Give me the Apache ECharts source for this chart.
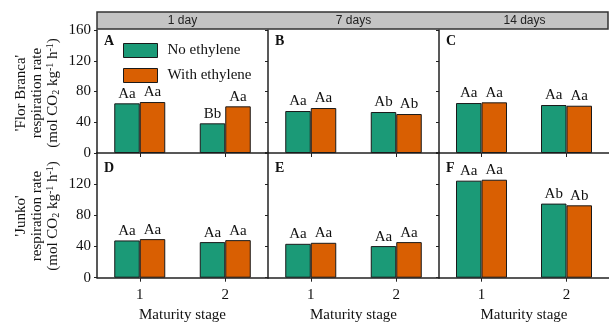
<!DOCTYPE html>
<html>
<head>
<meta charset="utf-8">
<script src="https://cdn.jsdelivr.net/npm/echarts@6/dist/echarts.min.js"></script>
<style>html,body{margin:0;padding:0;background:#fff;}#c{width:609px;height:324px;}</style>
</head>
<body>
<div id="c"></div>
<script>
// ---- data ----
const stages = ['1', '2'];
const days = ['1 day', '7 days', '14 days'];
const panelLetters = ['A', 'B', 'C', 'D', 'E', 'F'];
const seriesNames = ['No ethylene', 'With ethylene'];
const yTicks = [0, 40, 80, 120, 160];

// 'Flor Branca' respiration rate, per day: [stage 1, stage 2]
const florNoEthylene   = [[64.6, 38.6], [54.6, 53.3], [65.0, 62.4]];
const florWithEthylene = [[66.3, 60.7], [58.5, 50.7], [65.9, 61.5]];
// 'Junko' respiration rate, per day: [stage 1, stage 2]
const junkoNoEthylene   = [[47.6, 45.5], [43.3, 40.4], [124.0, 94.7]];
const junkoWithEthylene = [[49.3, 48.0], [44.6, 45.5], [125.2, 92.5]];

// significance letters
const florNoLetters    = [['Aa', 'Bb'], ['Aa', 'Ab'], ['Aa', 'Aa']];
const florWithLetters  = [['Aa', 'Aa'], ['Aa', 'Ab'], ['Aa', 'Aa']];
const junkoNoLetters   = [['Aa', 'Aa'], ['Aa', 'Aa'], ['Aa', 'Ab']];
const junkoWithLetters = [['Aa', 'Aa'], ['Aa', 'Aa'], ['Aa', 'Ab']];

// ---- layout / style ----
const SERIF = '"Liberation Serif", "Times New Roman", serif';
const SANS = '"Liberation Sans", Arial, sans-serif';
const COLORS = ['#1b9a77', '#d95f02'];
const lefts = [97, 268, 439];
const panelW = 171;
const rows = [{top: 30, height: 123}, {top: 152.5, height: 125.2}];

const grids = [], xAxes = [], yAxes = [], series = [];
const rowData = [
  [florNoEthylene, florWithEthylene, florNoLetters, florWithLetters],
  [junkoNoEthylene, junkoWithEthylene, junkoNoLetters, junkoWithLetters]
];

for (let r = 0; r < 2; r++) {
  for (let d = 0; d < 3; d++) {
    const g = r * 3 + d;
    grids.push({left: lefts[d], width: panelW, top: rows[r].top, height: rows[r].height});
    xAxes.push({
      type: 'category', gridIndex: g, data: stages,
      axisLine: {show: true, lineStyle: {color: '#222', width: 1.5}},
      axisTick: {show: true, alignWithLabel: true, length: 4, lineStyle: {color: '#222', width: 1}},
      axisLabel: {show: r === 1, fontFamily: SERIF, fontSize: 15, color: '#111', margin: 10},
      name: r === 1 ? 'Maturity stage' : '',
      nameLocation: 'middle', nameGap: 30,
      nameTextStyle: {fontFamily: SERIF, fontSize: 15, color: '#111'}
    });
    yAxes.push({
      type: 'value', gridIndex: g, min: yTicks[0], max: yTicks[yTicks.length - 1], interval: 40,
      axisLine: {show: true, lineStyle: {color: '#222', width: 1.5}},
      axisTick: {show: true, length: 3, lineStyle: {color: '#222', width: 1}},
      splitLine: {show: false},
      axisLabel: {show: d === 0, showMaxLabel: r === 0, fontFamily: SERIF, fontSize: 15, color: '#111', margin: 6}
    });
    const vals = [rowData[r][0][d], rowData[r][1][d]];
    const lets = [rowData[r][2][d], rowData[r][3][d]];
    for (let s = 0; s < 2; s++) {
      series.push({
        type: 'bar', name: seriesNames[s], xAxisIndex: g, yAxisIndex: g,
        data: vals[s], barWidth: 25.5, barGap: '0%',
        itemStyle: {color: COLORS[s], borderColor: '#1a1a1a', borderWidth: 1},
        label: {
          show: true, position: 'top', distance: 2,
          fontFamily: SERIF, fontSize: 15, color: '#111',
          formatter: (p) => lets[s][p.dataIndex]
        },
        emphasis: {disabled: true}
      });
    }
  }
}

const graphic = [
  {type: 'rect', shape: {x: 97, y: 12, width: 511, height: 17},
   style: {fill: '#c4c4c4', stroke: '#333', lineWidth: 1.5}, z: 10}
];
days.forEach((t, d) => {
  graphic.push({type: 'text', x: lefts[d] + panelW / 2, y: 20.5, z: 11,
    style: {text: t, font: '12px ' + SANS, fill: '#222', align: 'center', verticalAlign: 'middle'}});
});
panelLetters.forEach((t, i) => {
  const r = Math.floor(i / 3), d = i % 3;
  graphic.push({type: 'text', x: lefts[d] + 7, y: r === 0 ? 41 : 168, z: 11,
    style: {text: t, font: 'bold 14px ' + SERIF, fill: '#111', align: 'left', verticalAlign: 'middle'}});
});
const richY = {
  sub: {fontSize: 10, fontFamily: SERIF, verticalAlign: 'bottom', fill: '#111'},
  sup: {fontSize: 10, fontFamily: SERIF, verticalAlign: 'top', fill: '#111'}
};
const yTitles = [
  {text: "'Flor Branca'\nrespiration rate\n(mol CO{sub|2} kg{sup|-1} h{sup|-1})", y: 93},
  {text: "'Junko'\nrespiration rate\n(mol CO{sub|2} kg{sup|-1} h{sup|-1})", y: 216}
];
yTitles.forEach(o => {
  graphic.push({type: 'text', x: 37, y: o.y, rotation: Math.PI / 2, z: 11,
    style: {text: o.text, fontFamily: SERIF, fontSize: 15, lineHeight: 16, fill: '#111',
      align: 'center', verticalAlign: 'middle', rich: richY}});
});

const chart = echarts.init(document.getElementById('c'), null, {renderer: 'canvas'});
chart.setOption({
  animation: false,
  backgroundColor: '#fff',
  color: COLORS,
  grid: grids, xAxis: xAxes, yAxis: yAxes, series: series,
  legend: {
    data: seriesNames, orient: 'vertical', left: 123, top: 43, padding: 0,
    itemWidth: 34, itemHeight: 14, itemGap: 10, selectedMode: false,
    icon: 'rect',
    itemStyle: {borderColor: '#1a1a1a', borderWidth: 1},
    textStyle: {fontFamily: SERIF, fontSize: 15, color: '#111', padding: [0, 0, 0, 5]}
  },
  graphic: graphic
});
</script>
</body>
</html>
